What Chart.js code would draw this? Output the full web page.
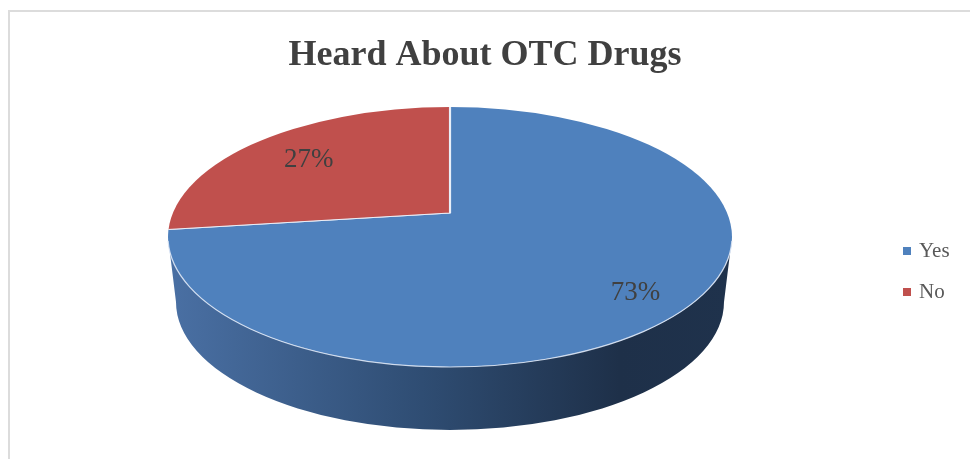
<!DOCTYPE html>
<html>
<head>
<meta charset="utf-8">
<script src="https://cdn.jsdelivr.net/npm/chart.js@4/dist/chart.umd.min.js"></script>
<style>
  html, body { margin: 0; padding: 0; background: #fff; overflow: hidden; }
  #frame { position: absolute; left: 8px; top: 10px; width: 1000px; height: 500px; border: 2px solid #dcdcdc; box-sizing: border-box; }
  #pie { position: absolute; left: 0; top: 0; }
</style>
</head>
<body>
<div id="frame"></div>
<canvas id="pie" width="970" height="459"></canvas>
<script>
const categories = ['Yes', 'No'];
const shares = [73, 27];
const sliceColors = ['#4F81BD', '#C0504D'];

// top face of the disc (ellipse), its bottom outline and the point the slices meet at
const PX = 450, PY = 237, RX = 282, RY = 130;
const BX = 450, BY = 302, BRX = 274, BRY = 128;
const CX = 450, CY = 213;
const SERIF = '"Liberation Serif", "DejaVu Serif", serif';

// where a ray from the slice apex at canvas angle a meets the top ellipse
function edgeHit(a) {
  const u0 = (CX - PX) / RX, v0 = (CY - PY) / RY;
  const du = Math.cos(a), dv = Math.sin(a);
  const A = du * du + dv * dv, B = 2 * (u0 * du + v0 * dv), C = u0 * u0 + v0 * v0 - 1;
  const t = (-B + Math.sqrt(B * B - 4 * A * C)) / (2 * A);
  return { t, phi: Math.atan2(v0 + t * dv, u0 + t * du) };
}

// keep only the part of [s, e] that faces the viewer (0..PI)
function frontSpans(s, e) {
  const out = [];
  [[0, Math.PI], [2 * Math.PI, 3 * Math.PI]].forEach(([lo, hi]) => {
    const a = Math.max(s, lo), b = Math.min(e, hi);
    if (b > a) out.push([a, b]);
  });
  return out;
}

const tilt = {
  id: 'tilt',
  beforeDatasetsDraw(chart) {
    const ctx = chart.ctx;
    const arcs = chart.getDatasetMeta(0).data;
    const rimBlue = ctx.createLinearGradient(PX - RX, 0, PX + RX, 0);
    rimBlue.addColorStop(0, '#4a70a4');
    rimBlue.addColorStop(0.45, '#2f4d73');
    rimBlue.addColorStop(0.8, '#1e3049');
    rimBlue.addColorStop(1, '#1f324c');
    const rimRed = ctx.createLinearGradient(PX - RX, 0, PX + RX, 0);
    rimRed.addColorStop(0, '#a34441');
    rimRed.addColorStop(1, '#5a201f');
    arcs.forEach((arc, i) => {
      let s = edgeHit(arc.startAngle).phi, e = edgeHit(arc.endAngle).phi;
      while (s < -Math.PI / 2 - 1e-6) s += 2 * Math.PI;
      while (e <= s) e += 2 * Math.PI;
      frontSpans(s, e).forEach(([a0, a1]) => {
        ctx.beginPath();
        ctx.ellipse(PX, PY, RX, RY, 0, a0, a1);
        ctx.ellipse(BX, BY, BRX, BRY, 0, a1, a0, true);
        ctx.closePath();
        ctx.fillStyle = i === 0 ? rimBlue : rimRed;
        ctx.fill();
      });
    });
    // squash the round pie onto the top face, apex pushed back a little
    const { x, y, outerRadius } = arcs[0];
    const k = 1.4;
    ctx.save();
    ctx.beginPath();
    ctx.ellipse(PX, PY, RX, RY, 0, 0, Math.PI * 2);
    ctx.clip();
    ctx.translate(CX, CY);
    ctx.scale(RX * k / outerRadius, RY * k / outerRadius);
    ctx.translate(-x, -y);
  },
  afterDatasetsDraw(chart) {
    const ctx = chart.ctx;
    ctx.restore();
    // light rim along the front edge
    ctx.beginPath();
    ctx.ellipse(PX, PY, RX, RY, 0, 0.03, Math.PI - 0.03);
    ctx.strokeStyle = 'rgba(220,230,245,0.9)';
    ctx.lineWidth = 1.2;
    ctx.stroke();

    // percentage labels
    const arcs = chart.getDatasetMeta(0).data;
    const total = shares.reduce((a, b) => a + b, 0);
    ctx.font = '27px ' + SERIF;
    ctx.fillStyle = '#404040';
    ctx.textAlign = 'center';
    ctx.textBaseline = 'alphabetic';
    arcs.forEach((arc, i) => {
      const mid = (arc.startAngle + arc.endAngle) / 2;
      const f = edgeHit(mid).t * 0.78;
      const lx = CX + Math.cos(mid) * RX * f;
      const ly = CY + Math.sin(mid) * RY * f;
      ctx.fillText(Math.round(shares[i] / total * 100) + '%', lx + 2, ly + 12);
    });
  },
  afterDraw(chart) {
    // legend on the right
    const ctx = chart.ctx;
    ctx.font = '21px ' + SERIF;
    ctx.textAlign = 'left';
    ctx.textBaseline = 'alphabetic';
    categories.forEach((name, i) => {
      const y = 257 + i * 41;
      ctx.fillStyle = sliceColors[i];
      ctx.fillRect(903, y - 10, 8, 8);
      ctx.fillStyle = '#595959';
      ctx.fillText(name, 919, y);
    });
  }
};

new Chart(document.getElementById('pie'), {
  type: 'pie',
  data: {
    labels: categories,
    datasets: [{
      data: shares,
      backgroundColor: sliceColors,
      borderColor: '#e8eef8',
      borderWidth: 1,
      clip: false
    }]
  },
  options: {
    responsive: false,
    animation: false,
    events: [],
    plugins: {
      legend: { display: false },
      tooltip: { enabled: false },
      title: {
        display: true,
        text: 'Heard About OTC Drugs',
        color: '#404040',
        font: { family: SERIF, size: 36, weight: 'bold' },
        padding: { top: 34, bottom: 10 }
      }
    }
  },
  plugins: [tilt]
});
</script>
</body>
</html>
